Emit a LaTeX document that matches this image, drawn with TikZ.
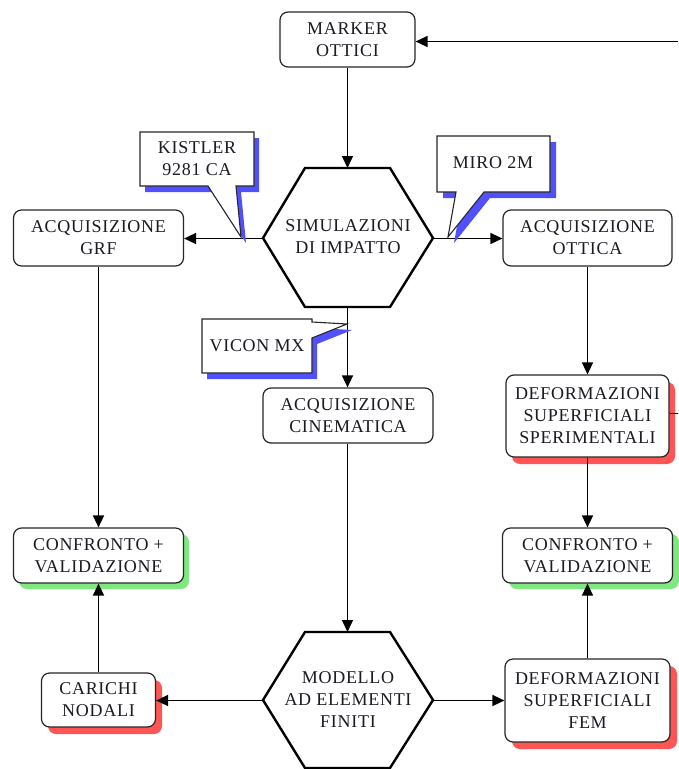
\documentclass[tikz,border=0pt]{standalone}
\usepackage{fontspec}
\setmainfont{Liberation Serif}[LetterSpace=4]
\usetikzlibrary{arrows.meta}
\definecolor{shblue}{HTML}{5050FF}
\definecolor{shred}{HTML}{FF5555}
\definecolor{shgreen}{HTML}{80E880}
\definecolor{txt}{HTML}{1A1A22}
\tikzset{
  x=1pt,y=-1pt,
  box/.style={draw=black!85, line width=1.2pt, rounded corners=8pt, fill=white,
    inner sep=0pt, align=center, text=txt,
    font=\fontsize{18}{22}\selectfont},
  hexlabel/.style={inner sep=0pt, align=center, text=txt, font=\fontsize{18}{22}\selectfont},
  hexline/.style={draw=black, line width=2.4pt, fill=white, line join=miter},
  conn/.style={draw=black, line width=1.5pt, -{Triangle[length=12pt,width=11pt]}},
  plain/.style={draw=black, line width=1.5pt},
  callout/.style={draw=black!85, line width=1.1pt, fill=white},
}
\begin{document}
\begin{tikzpicture}
\useasboundingbox (0,0) rectangle (678,769);

% shadows for boxes
\fill[shred, rounded corners=8pt] (512,382) rectangle (675,464);
\fill[shred, rounded corners=8pt] (512,666) rectangle (677,749);
\fill[shred, rounded corners=8pt] (48,680) rectangle (162,734);
\fill[shgreen, rounded corners=8pt] (19,534) rectangle (189,589);
\fill[shgreen, rounded corners=8pt] (509,534) rectangle (679,589);

% boxes
\node[box, minimum width=135pt, minimum height=55pt] (marker) at (347.5,39.5) {MARKER\\OTTICI};
\node[box, minimum width=170pt, minimum height=56pt] (grf) at (98.5,238) {ACQUISIZIONE\\GRF};
\node[box, minimum width=169pt, minimum height=56pt] (ottica) at (587.5,238) {ACQUISIZIONE\\OTTICA};
\node[box, minimum width=170pt, minimum height=55pt] (cine) at (348,415.5) {ACQUISIZIONE\\CINEMATICA};
\node[box, minimum width=163pt, minimum height=82pt] (sper) at (587.5,416) {DEFORMAZIONI\\SUPERFICIALI\\SPERIMENTALI};
\node[box, minimum width=170pt, minimum height=55pt] (confL) at (98.5,555.5) {CONFRONTO +\\VALIDAZIONE};
\node[box, minimum width=170pt, minimum height=55pt] (confR) at (587.5,555.5) {CONFRONTO +\\VALIDAZIONE};
\node[box, minimum width=114pt, minimum height=54pt] (carichi) at (98.5,700) {CARICHI\\NODALI};
\node[box, minimum width=165pt, minimum height=83pt] (fem) at (587.5,700.5) {DEFORMAZIONI\\SUPERFICIALI\\FEM};

% hexagons
\path[hexline] (263,238) -- (305,168) -- (390,168) -- (433,238) -- (390,307) -- (305,307) -- cycle;
\node[hexlabel] (sim) at (348,237) {SIMULAZIONI\\DI IMPATTO};
\coordinate (simT) at (347.5,168);
\coordinate (simB) at (347.5,307);
\coordinate (simL) at (263,238.5);
\coordinate (simR) at (433,238.5);

\path[hexline] (263,700) -- (305,632) -- (390,632) -- (433,700) -- (390,768) -- (305,768) -- cycle;
\node[hexlabel] (fin) at (348,700) {MODELLO\\AD ELEMENTI\\FINITI};
\coordinate (finT) at (347.5,632);
\coordinate (finL) at (263,700.5);
\coordinate (finR) at (433,700.5);

% external feedback line ends
\coordinate (eastTop) at (678,41.5);
\coordinate (eastMid) at (678,413.5);

% connectors
\draw[conn] (eastTop) -- (marker.east |- eastTop);
\draw[plain] (sper.east |- eastMid) -- (eastMid);
\draw[conn] (marker.south -| simT) -- (simT);
\draw[conn] (simL) -- (grf.east |- simL);
\draw[conn] (simR) -- (ottica.west |- simR);
\draw[conn] (simB) -- (cine.north -| simB);
\draw[conn] (cine.south -| simB) -- (finT);
\draw[conn] (finL) -- (carichi.east |- finL);
\draw[conn] (finR) -- (fem.west |- finR);
\draw[conn] (grf.south) -- (confL.north);
\draw[conn] (carichi.north) -- (confL.south);
\draw[conn] (ottica.south) -- (sper.north);
\draw[conn] (sper.south) -- (confR.north);
\draw[conn] (fem.north) -- (confR.south);

% callouts
\fill[shblue, shift={(5,6)}] (140,132) -- (254,132) -- (254,186) -- (236,186) -- (241,237) -- (208,186) -- (140,186) -- cycle;
\path[callout] (140,132) -- (254,132) -- (254,186) -- (236,186) -- (241,237) -- (208,186) -- (140,186) -- cycle;
\node[hexlabel] (kistler) at (197,159) {KISTLER\\9281 CA};

\fill[shblue, shift={(6,6)}] (437,136) -- (550,136) -- (550,192) -- (484,192) -- (448,237) -- (456,192) -- (437,192) -- cycle;
\path[callout] (437,136) -- (550,136) -- (550,192) -- (484,192) -- (448,237) -- (456,192) -- (437,192) -- cycle;
\node[hexlabel] (miro) at (493,163) {MIRO 2M};

\fill[shblue, shift={(5,6)}] (202,319) -- (312,319) -- (312,322) -- (347,324) -- (312,338) -- (312,373) -- (202,373) -- cycle;
\path[callout] (202,319) -- (312,319) -- (312,322) -- (347,324) -- (312,338) -- (312,373) -- (202,373) -- cycle;
\node[hexlabel] (vicon) at (257,346) {VICON MX};
\end{tikzpicture}
\end{document}
